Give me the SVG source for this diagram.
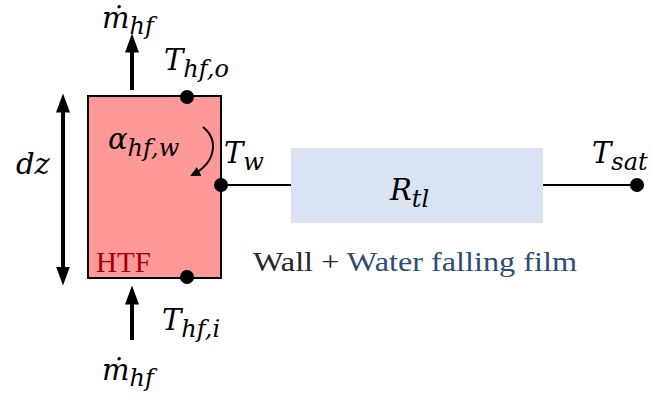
<svg xmlns="http://www.w3.org/2000/svg" width="651" height="401" viewBox="0 0 651 401">
<defs>
<style>
.m{font-family:"DejaVu Serif",serif;font-style:italic;fill:#000}
.big{font-size:29px}
.sub{font-size:24px}
.ln{stroke:#000;stroke-width:2;fill:none}
.ar{stroke:#000;stroke-width:4;fill:none}
.t{font-family:"Liberation Serif",serif}
</style>
<marker id="ah" viewBox="0 0 10 10" refX="5" refY="5" markerWidth="4.75" markerHeight="3.5" orient="auto-start-reverse" markerUnits="strokeWidth" preserveAspectRatio="none">
<path d="M0,0 L10,5 L0,10 z" fill="#000"/>
</marker>
<marker id="ah2" viewBox="0 0 10 10" refX="8" refY="5" markerWidth="5" markerHeight="5" orient="auto" markerUnits="strokeWidth">
<path d="M0,0 L10,5 L0,10 z" fill="#000"/>
</marker>
</defs>
<g id="htf">
<rect x="88" y="96" width="133" height="182" fill="#FF9999" stroke="#000" stroke-width="2"/>
<text class="t" x="96" y="272" font-size="29" fill="#A00000">HTF</text>
<text class="m" x="108" y="149"><tspan class="big">α</tspan><tspan class="sub" dy="7">hf,w</tspan></text>
</g>
<g id="connectors">
<line class="ln" x1="221" y1="185" x2="291" y2="185"/>
<line class="ln" x1="543" y1="185" x2="637" y2="185"/>
<line class="ar" x1="132" y1="90" x2="132" y2="43" marker-end="url(#ah)"/>
<line class="ar" x1="132" y1="340" x2="132" y2="295" marker-end="url(#ah)"/>
<line class="ar" x1="63" y1="103" x2="63" y2="276" marker-start="url(#ah)" marker-end="url(#ah)"/>
<path class="ln" d="M203,127 C219,140 216,163 192,175" stroke-width="2.5" marker-end="url(#ah2)"/>
</g>
<g id="dz">
<text class="m big" x="16" y="174">dz</text>
</g>
<g id="mtop">
<text class="m" x="102" y="28"><tspan class="big">ṁ</tspan><tspan class="sub" dy="6">hf</tspan></text>
</g>
<g id="mbot">
<text class="m" x="102" y="380"><tspan class="big">ṁ</tspan><tspan class="sub" dy="6">hf</tspan></text>
</g>
<g id="thfo">
<circle cx="187" cy="97" r="7" fill="#000"/>
<text class="m" x="164" y="70"><tspan class="big">T</tspan><tspan class="sub" dy="7">hf,o</tspan></text>
</g>
<g id="thfi">
<circle cx="187" cy="277" r="7" fill="#000"/>
<text class="m" x="162" y="330"><tspan class="big">T</tspan><tspan class="sub" dy="7">hf,i</tspan></text>
</g>
<g id="tw">
<circle cx="221" cy="185" r="7" fill="#000"/>
<text class="m" x="224" y="163"><tspan class="big">T</tspan><tspan class="sub" dy="7">w</tspan></text>
</g>
<g id="rtl">
<rect x="291" y="148" width="252" height="75" fill="#DAE3F3"/>
<text class="m" x="390" y="200"><tspan class="big">R</tspan><tspan class="sub" dy="7">tl</tspan></text>
</g>
<g id="tsat">
<circle cx="637" cy="185" r="7" fill="#000"/>
<text class="m" x="592" y="163"><tspan class="big">T</tspan><tspan class="sub" dy="7">sat</tspan></text>
</g>
<g id="label">
<text class="t" x="253" y="271" font-size="27" fill="#262626" textLength="324" lengthAdjust="spacingAndGlyphs">Wall + <tspan fill="#2F4B7C">Water falling film</tspan></text>
</g>
</svg>
